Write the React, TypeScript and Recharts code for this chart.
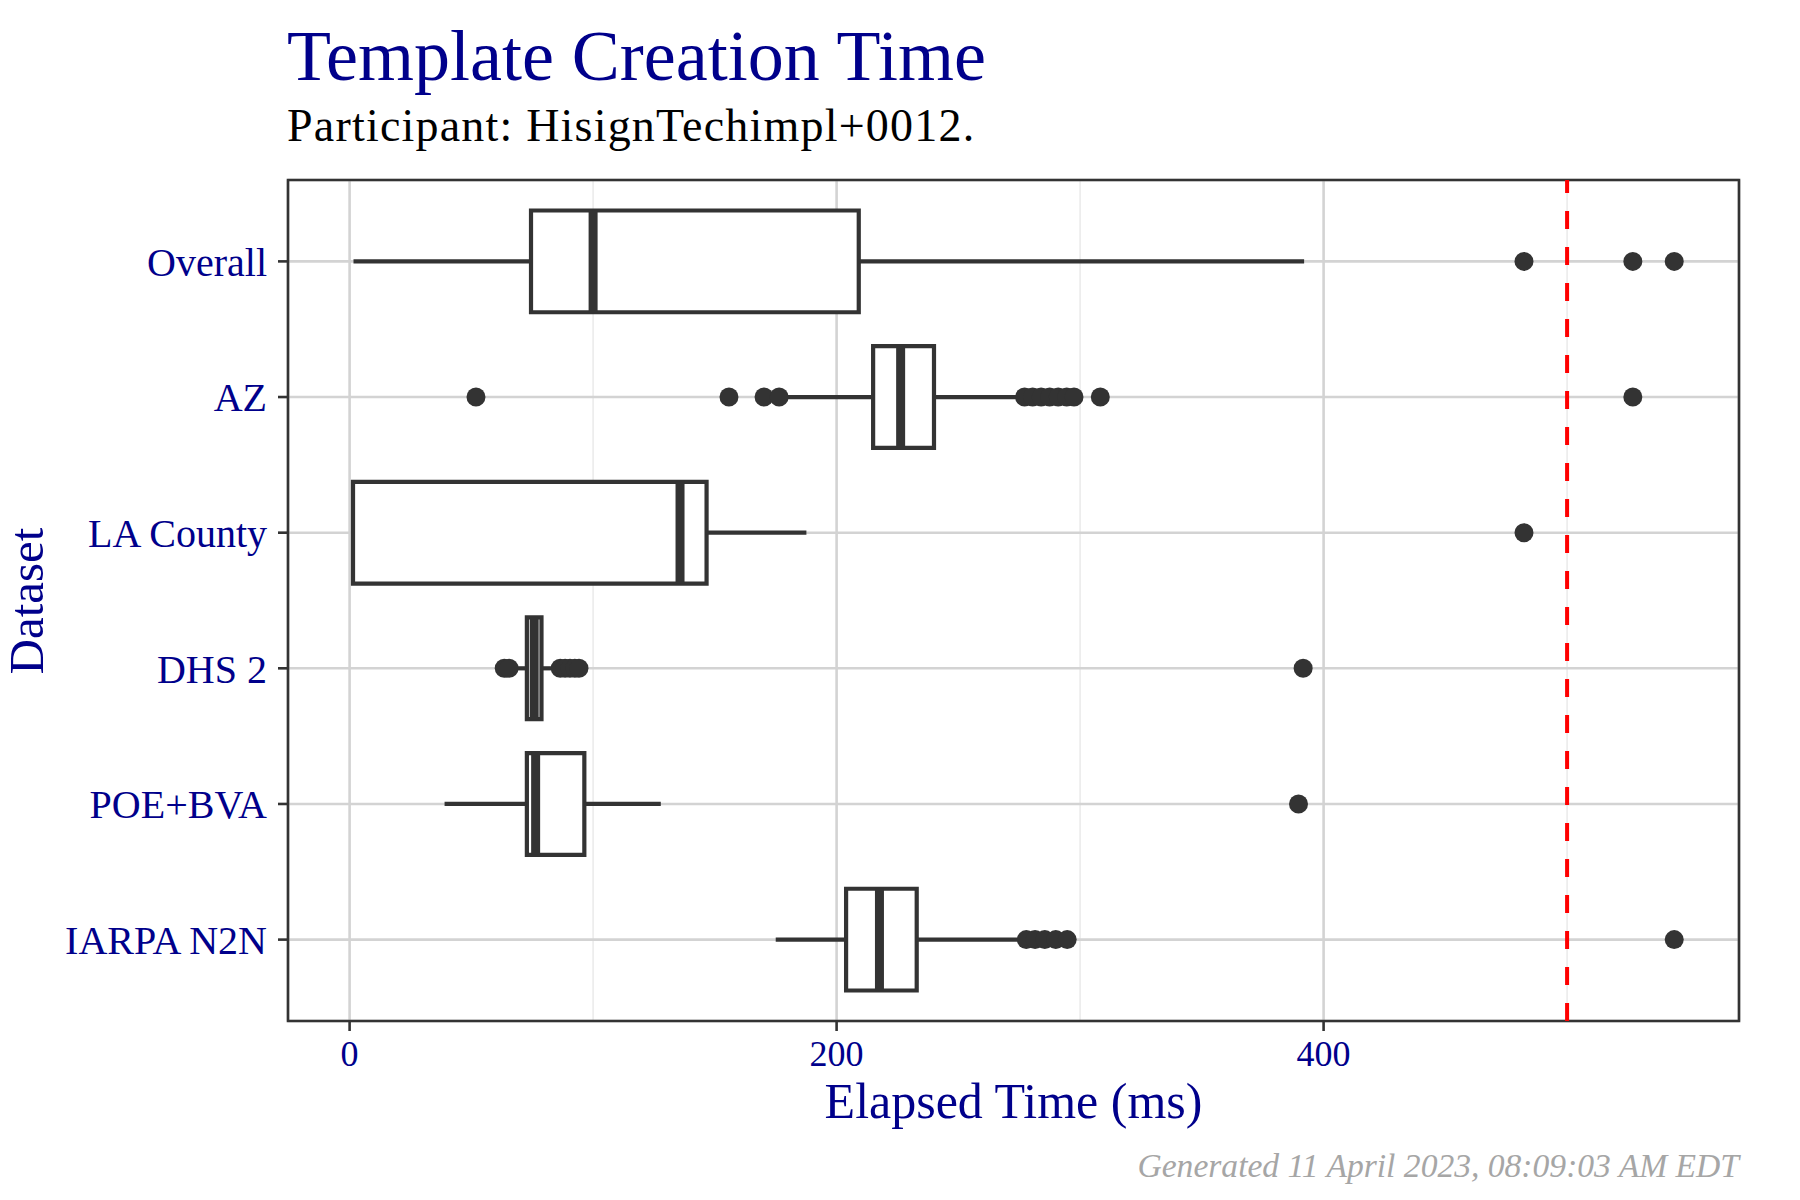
import React from "react";
import {
  ComposedChart,
  XAxis,
  YAxis,
  CartesianGrid,
  ReferenceArea,
  ReferenceLine,
  Scatter,
} from "recharts";

// ---- data ----
const categories = ["Overall", "AZ", "LA County", "DHS 2", "POE+BVA", "IARPA N2N"];
const whiskerLow = [1.6, 180, 1.4, 69, 39, 175];
const q1 = [74.5, 215, 1.4, 72.8, 72.8, 203.9];
const median = [100, 226.3, 135.7, 75.8, 76.4, 217.6];
const q3 = [209.1, 240, 146.6, 78.8, 96.4, 232.9];
const whiskerHigh = [392, 276, 187.6, 84, 127.8, 276];
const outliersOverall = [482.3, 527, 544];
const outliersAZ = [51.9, 155.8, 170.2, 176.4, 277.2, 280.5, 284, 287.5, 291, 294.5, 297.5, 308.3, 527];
const outliersLA = [482.3];
const outliersDHS = [63.5, 65.5, 86.5, 88.5, 90.5, 92.5, 94.2, 391.6];
const outliersPOE = [389.7];
const outliersIARPA = [277.9, 281.5, 285.5, 290, 294.7, 544];
const outlierSets = [outliersOverall, outliersAZ, outliersLA, outliersDHS, outliersPOE, outliersIARPA];
const xTicks = [0, 200, 400];
const xMinorTicks = [100, 300, 500];
const threshold = 500;
const xDomain: [number, number] = [-25.3, 570.6];
const yDomain: [number, number] = [0.4, 6.6];

const outlierPoints = outlierSets.flatMap((arr, i) => arr.map((v) => ({ x: v, y: i + 1 })));
const yTicks = categories.map((_, i) => i + 1);

const DARK = "#333333";
const BLUE = "#00008B";
const FONT = "'Liberation Serif', 'Times New Roman', serif";
const HALF = 0.375;
const LW = 4.2;

export default function App() {
  return (
    <div style={{ position: "absolute", left: 0, top: 0, width: 1800, height: 1200, background: "#fff" }}>
      <ComposedChart
        width={1800}
        height={1200}
        margin={{ top: 180, right: 61, bottom: 119, left: 0 }}
      >
        <CartesianGrid stroke="#ebebeb" strokeWidth={1.6} xAxisId="minor" horizontal={false} vertical={true} />
        <CartesianGrid stroke="#d3d3d3" strokeWidth={2.6} />
        <XAxis
          xAxisId="minor"
          type="number"
          dataKey="x"
          domain={xDomain}
          ticks={xMinorTicks}
          allowDataOverflow
          hide
        />
        <XAxis
          type="number"
          dataKey="x"
          domain={xDomain}
          ticks={xTicks}
          allowDataOverflow
          height={60}
          axisLine={false}
          tickLine={{ stroke: DARK, strokeWidth: 2.6 }}
          tickSize={10}
          tickMargin={9}
          tick={{ fill: BLUE, fontSize: 36, fontFamily: FONT }}
        />
        <YAxis
          type="number"
          dataKey="y"
          domain={yDomain}
          ticks={yTicks}
          interval={0}
          reversed
          allowDataOverflow
          width={288}
          axisLine={false}
          tickLine={{ stroke: DARK, strokeWidth: 2.6 }}
          tickSize={10}
          tickMargin={11}
          tickFormatter={(v: number) => categories[v - 1] ?? ""}
          tick={{ fill: BLUE, fontSize: 40, fontFamily: FONT }}
        />
        {categories.map((c, i) => (
          <ReferenceLine
            key={"wl" + c}
            segment={[{ x: whiskerLow[i], y: i + 1 }, { x: q1[i], y: i + 1 }]}
            stroke={DARK}
            strokeWidth={LW}
          />
        ))}
        {categories.map((c, i) => (
          <ReferenceLine
            key={"wh" + c}
            segment={[{ x: q3[i], y: i + 1 }, { x: whiskerHigh[i], y: i + 1 }]}
            stroke={DARK}
            strokeWidth={LW}
          />
        ))}
        {categories.map((c, i) => (
          <ReferenceArea
            key={"box" + c}
            x1={q1[i]}
            x2={q3[i]}
            y1={i + 1 - HALF}
            y2={i + 1 + HALF}
            fill="#ffffff"
            fillOpacity={1}
            stroke={DARK}
            strokeWidth={LW}
          />
        ))}
        {categories.map((c, i) => (
          <ReferenceLine
            key={"med" + c}
            segment={[{ x: median[i], y: i + 1 - HALF }, { x: median[i], y: i + 1 + HALF }]}
            stroke={DARK}
            strokeWidth={9}
          />
        ))}
        <Scatter
          data={outlierPoints}
          isAnimationActive={false}
          shape={(p: any) => <circle cx={p.cx} cy={p.cy} r={9.5} fill={DARK} />}
        />
        <ReferenceLine x={threshold} stroke="#ff0000" strokeWidth={4} strokeDasharray="18 18" />
        <ReferenceArea
          x1={xDomain[0]}
          x2={xDomain[1]}
          y1={yDomain[0]}
          y2={yDomain[1]}
          fill="none"
          stroke={DARK}
          strokeWidth={2.6}
        />
      </ComposedChart>
      <svg
        width={1800}
        height={1200}
        style={{ position: "absolute", left: 0, top: 0, pointerEvents: "none" }}
      >
        <text x={287} y={80} fontSize={72} fill={BLUE} fontFamily={FONT}>
          Template Creation Time
        </text>
        <text x={287} y={141} fontSize={46} fill="#000000" fontFamily={FONT} letterSpacing={1.2}>
          Participant: HisignTechimpl+0012.
        </text>
        <text x={1013.5} y={1118} fontSize={50} fill={BLUE} fontFamily={FONT} textAnchor="middle">
          Elapsed Time (ms)
        </text>
        <text
          transform="translate(43,601) rotate(-90)"
          x={0}
          y={0}
          fontSize={49}
          fill={BLUE}
          fontFamily={FONT}
          textAnchor="middle"
        >
          Dataset
        </text>
        <text
          x={1739}
          y={1177}
          fontSize={33.6}
          fill="#a6a6a6"
          fontFamily={FONT}
          fontStyle="italic"
          textAnchor="end"
        >
          Generated 11 April 2023, 08:09:03 AM EDT
        </text>
      </svg>
    </div>
  );
}
